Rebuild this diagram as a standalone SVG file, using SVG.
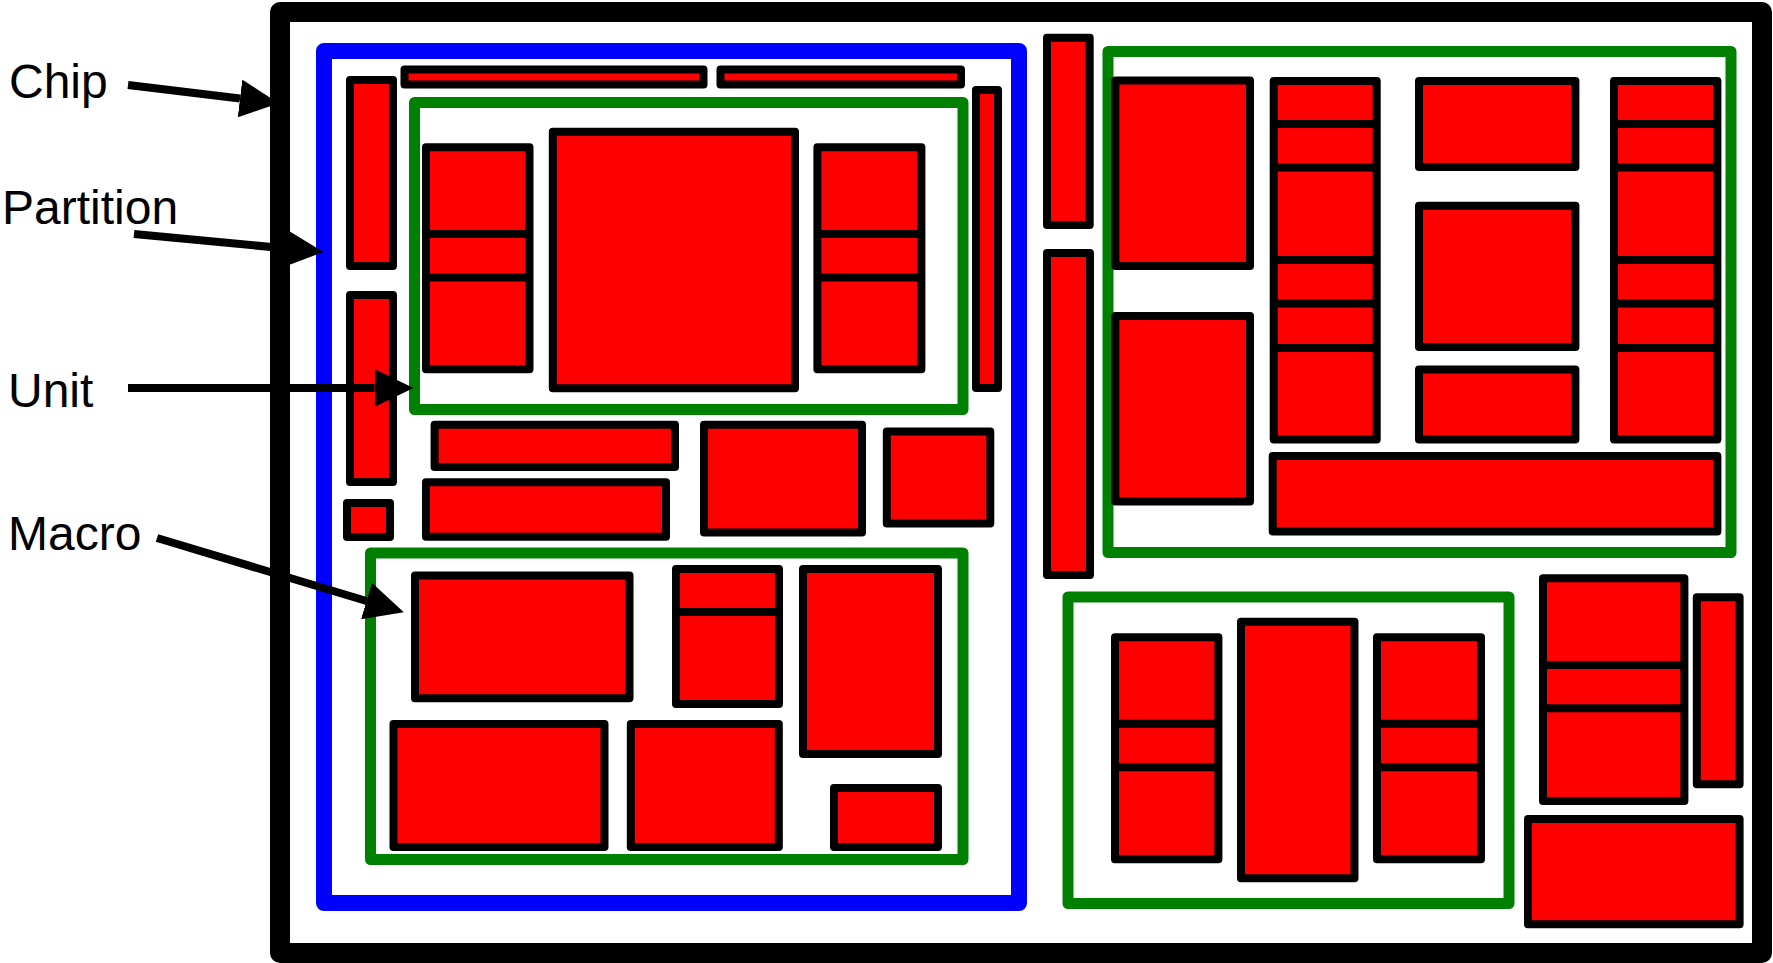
<svg xmlns="http://www.w3.org/2000/svg" width="1773" height="963" viewBox="0 0 1773 963">
<style>
.chip{fill:#fff;stroke:#000;stroke-width:20;stroke-linejoin:round}
.part{fill:none;stroke:#0000ff;stroke-width:16;stroke-linejoin:round}
.unit{fill:none;stroke:#008000;stroke-width:11;stroke-linejoin:round}
.mac{fill:#ff0000;stroke:#000;stroke-width:8;stroke-linejoin:round}
.div{stroke:#000;stroke-width:8}
.lbl{font-family:"Liberation Sans",Arial,sans-serif;font-size:48px;fill:#000}
.arr{stroke:#000;stroke-width:8;fill:none;marker-end:url(#ah)}
</style>
<defs>
<marker id="ah" markerUnits="userSpaceOnUse" viewBox="0 0 39 38" markerWidth="39" markerHeight="38" refX="0" refY="19" orient="auto">
<path d="M0,0 L39,19 L0,38 Z" fill="#000"/>
</marker>
</defs>
<rect width="1773" height="963" fill="#fff"/>
<g id="chip"><rect class="chip" x="280" y="12" width="1482" height="941"/></g>
<g id="partition"><rect class="part" x="324" y="51" width="695" height="852"/></g>
<g id="unit-top-left"><rect class="unit" x="414.5" y="102.5" width="548.5" height="307"/></g>
<g id="unit-bottom-left"><rect class="unit" x="370.5" y="553" width="592.5" height="306.5"/></g>
<g id="unit-top-right"><rect class="unit" x="1108" y="51.5" width="623" height="501"/></g>
<g id="unit-bottom-mid"><rect class="unit" x="1068" y="597" width="441" height="306.5"/></g>

<g id="macros">
<g id="m-tb1"><rect class="mac" x="404.5" y="69.5" width="299" height="15"/></g>
<g id="m-tb2"><rect class="mac" x="720.5" y="69.5" width="240.5" height="15"/></g>
<g id="m-lb1"><rect class="mac" x="350" y="80" width="43" height="186"/></g>
<g id="m-lb2"><rect class="mac" x="350" y="295" width="43" height="187"/></g>
<g id="m-sq"><rect class="mac" x="347" y="503" width="43" height="34"/></g>
<g id="m-rb"><rect class="mac" x="976" y="90" width="22" height="298"/></g>
<g id="m-u1l"><rect class="mac" x="426" y="147.3" width="103.5" height="222"/><line class="div" x1="426" y1="234" x2="529.5" y2="234"/><line class="div" x1="426" y1="277.5" x2="529.5" y2="277.5"/></g>
<g id="m-u1c"><rect class="mac" x="552.8" y="131.7" width="242.2" height="256.6"/></g>
<g id="m-u1r"><rect class="mac" x="817.4" y="147.3" width="104" height="222"/><line class="div" x1="817.4" y1="234" x2="921.4" y2="234"/><line class="div" x1="817.4" y1="277.5" x2="921.4" y2="277.5"/></g>
<g id="m-a"><rect class="mac" x="434.6" y="424.8" width="240.4" height="42.2"/></g>
<g id="m-b"><rect class="mac" x="426" y="482.3" width="240" height="54.5"/></g>
<g id="m-c"><rect class="mac" x="704" y="424.8" width="158" height="107.6"/></g>
<g id="m-d"><rect class="mac" x="886.8" y="431.6" width="103.5" height="91.9"/></g>
<g id="m-u2a"><rect class="mac" x="415" y="575.6" width="214.5" height="122.7"/></g>
<g id="m-u2b"><rect class="mac" x="676" y="569" width="103" height="135"/><line class="div" x1="676" y1="612" x2="779" y2="612"/></g>
<g id="m-u2c"><rect class="mac" x="803" y="569" width="135" height="185"/></g>
<g id="m-u2d"><rect class="mac" x="393.5" y="724" width="211" height="123"/></g>
<g id="m-u2e"><rect class="mac" x="630.8" y="724" width="148" height="123"/></g>
<g id="m-u2f"><rect class="mac" x="834" y="788" width="104" height="59"/></g>
<g id="m-v1"><rect class="mac" x="1047" y="37.8" width="42.7" height="187.2"/></g>
<g id="m-v2"><rect class="mac" x="1047" y="253" width="43" height="322"/></g>
<g id="m-tr1"><rect class="mac" x="1115.4" y="80.4" width="134.6" height="185.6"/></g>
<g id="m-tr2"><rect class="mac" x="1115.4" y="316" width="134.6" height="185.5"/></g>
<g id="m-trc1"><rect class="mac" x="1273.7" y="81" width="103" height="358.6"/><line class="div" x1="1273.7" y1="124" x2="1376.7" y2="124"/><line class="div" x1="1273.7" y1="167.5" x2="1376.7" y2="167.5"/><line class="div" x1="1273.7" y1="260" x2="1376.7" y2="260"/><line class="div" x1="1273.7" y1="303.5" x2="1376.7" y2="303.5"/><line class="div" x1="1273.7" y1="348" x2="1376.7" y2="348"/></g>
<g id="m-tr3"><rect class="mac" x="1419" y="81" width="156.4" height="86"/></g>
<g id="m-tr4"><rect class="mac" x="1419" y="205.8" width="156.4" height="141.2"/></g>
<g id="m-tr5"><rect class="mac" x="1419" y="369.5" width="156.4" height="70"/></g>
<g id="m-trc2"><rect class="mac" x="1614" y="81" width="103.4" height="358.6"/><line class="div" x1="1614" y1="124" x2="1717.4" y2="124"/><line class="div" x1="1614" y1="167.5" x2="1717.4" y2="167.5"/><line class="div" x1="1614" y1="260" x2="1717.4" y2="260"/><line class="div" x1="1614" y1="303.5" x2="1717.4" y2="303.5"/><line class="div" x1="1614" y1="348" x2="1717.4" y2="348"/></g>
<g id="m-trw"><rect class="mac" x="1272.7" y="456" width="444.7" height="75.6"/></g>
<g id="m-bm1"><rect class="mac" x="1115" y="637.3" width="103.4" height="222"/><line class="div" x1="1115" y1="723.7" x2="1218.4" y2="723.7"/><line class="div" x1="1115" y1="767.3" x2="1218.4" y2="767.3"/></g>
<g id="m-bmc"><rect class="mac" x="1241" y="621.7" width="113.5" height="256.6"/></g>
<g id="m-bm2"><rect class="mac" x="1377" y="637.3" width="104" height="222"/><line class="div" x1="1377" y1="723.7" x2="1481" y2="723.7"/><line class="div" x1="1377" y1="767.3" x2="1481" y2="767.3"/></g>
<g id="m-r1"><rect class="mac" x="1543" y="578.3" width="141.4" height="222.7"/><line class="div" x1="1543" y1="665" x2="1684.4" y2="665"/><line class="div" x1="1543" y1="708.3" x2="1684.4" y2="708.3"/></g>
<g id="m-r2"><rect class="mac" x="1696.8" y="597.3" width="42.8" height="187"/></g>
<g id="m-r3"><rect class="mac" x="1528" y="819" width="211.6" height="105.3"/></g>
</g>

<g id="labels">
<text class="lbl" x="9" y="98">Chip</text>
<text class="lbl" x="2" y="224">Partition</text>
<text class="lbl" x="8" y="407">Unit</text>
<text class="lbl" x="8" y="550">Macro</text>
</g>

<g id="connectors">
<line class="arr" x1="128" y1="85" x2="240" y2="98.5"/>
<line class="arr" x1="134" y1="234" x2="284.7" y2="248.3"/>
<line class="arr" x1="128" y1="388" x2="374.5" y2="388"/>
<line class="arr" x1="157" y1="538" x2="366.5" y2="601"/>
</g>
</svg>
